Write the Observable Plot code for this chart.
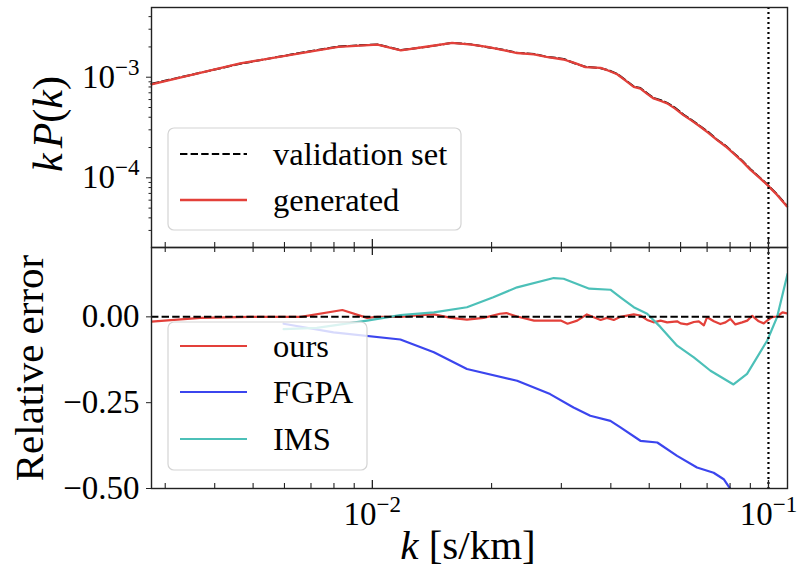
<!DOCTYPE html>
<html><head><meta charset="utf-8">
<script src="https://cdn.jsdelivr.net/npm/d3@7"></script>
<script src="https://cdn.jsdelivr.net/npm/@observablehq/plot@0.6"></script>
<style>
body{margin:0;background:#fff;}
#wrap{position:relative;width:800px;height:571px;overflow:hidden;font-family:"Liberation Serif",serif;background:#fff;}
#wrap svg{position:absolute;left:0;}
</style></head><body><div id="wrap"></div>
<script>
// ---------- data ----------
const kTop = [0.00277,0.00464,0.0065,0.0082,0.0103,0.0118,0.0138,0.0159,0.0178,0.0195,0.0214,0.0232,0.0256,0.0275,0.0304,0.0325,0.0345,0.0377,0.0395,0.0415,0.0435,0.0457,0.0475,0.0495,0.0513,0.0535,0.0555,0.058,0.061,0.064,0.0673,0.0705,0.0741,0.078,0.0816,0.086,0.0901,0.095,0.0993,0.105,0.1114];
const kPgenerated = [8.5e-4,1.37e-3,1.72e-3,2.0e-3,2.11e-3,1.85e-3,2.02e-3,2.19e-3,2.11e-3,2.0e-3,1.86e-3,1.74e-3,1.69e-3,1.59e-3,1.5e-3,1.38e-3,1.26e-3,1.24e-3,1.16e-3,1.07e-3,9.3e-4,8.0e-4,7.7e-4,6.8e-4,6.15e-4,5.8e-4,5.5e-4,4.9e-4,4.2e-4,3.7e-4,3.22e-4,2.8e-4,2.38e-4,2.05e-4,1.75e-4,1.45e-4,1.2e-4,1.0e-4,8.5e-5,6.8e-5,5.2e-5];
const kPvalidation = [8.6e-4,1.36e-3,1.73e-3,2.02e-3,2.12e-3,1.86e-3,2.01e-3,2.2e-3,2.12e-3,1.99e-3,1.87e-3,1.75e-3,1.7e-3,1.6e-3,1.52e-3,1.37e-3,1.27e-3,1.23e-3,1.17e-3,1.08e-3,9.4e-4,8.1e-4,7.8e-4,6.9e-4,6.2e-4,5.9e-4,5.55e-4,5.0e-4,4.25e-4,3.75e-4,3.25e-4,2.85e-4,2.4e-4,2.08e-4,1.77e-4,1.47e-4,1.22e-4,1.01e-4,8.6e-5,6.9e-5,5.25e-5];

const kOurs = [0.00277,0.00368,0.00492,0.0066,0.0084,0.0097,0.0103,0.01177,0.01297,0.0143,0.0158,0.01733,0.0191,0.0210,0.0218,0.0232,0.0256,0.0299,0.0311,0.0329,0.0348,0.0377,0.0391,0.0407,0.0423,0.0457,0.0475,0.0494,0.0513,0.0534,0.0555,0.0588,0.0600,0.0623,0.0648,0.0667,0.0687,0.0700,0.0728,0.0756,0.0779,0.0802,0.0825,0.0858,0.0884,0.0910,0.0945,0.0973,0.0992,0.1021,0.1051,0.1085,0.1117];
const errOurs = [-0.014,-0.003,0.0,0.0,0.02,-0.003,0.0,0.0,0.004,0.007,-0.003,-0.008,-0.003,0.009,0.011,0.001,-0.011,-0.011,-0.02,-0.011,0.007,-0.009,-0.003,-0.009,0.0,0.007,0.004,-0.009,-0.016,-0.011,-0.016,-0.013,-0.019,-0.022,-0.015,-0.013,-0.025,-0.001,-0.013,-0.021,-0.016,-0.006,-0.022,-0.016,-0.011,0.003,-0.013,-0.019,-0.011,-0.001,0.001,0.013,0.010];

const kFGPA = [0.00597,0.00798,0.01177,0.0143,0.01733,0.0232,0.0281,0.0322,0.0355,0.0399,0.0423,0.0475,0.0524,0.0588,0.066,0.0727,0.0771,0.0802];
const errFGPA = [-0.02,-0.045,-0.066,-0.103,-0.152,-0.186,-0.225,-0.264,-0.288,-0.303,-0.322,-0.361,-0.366,-0.405,-0.439,-0.454,-0.473,-0.502];

const kIMS = [0.00597,0.00724,0.0097,0.01177,0.0143,0.01733,0.0202,0.0232,0.0287,0.0304,0.0353,0.0399,0.0423,0.0457,0.0494,0.0534,0.0588,0.0648,0.0714,0.0816,0.0883,0.0993,0.1052,0.1117];
const errIMS = [-0.036,-0.032,-0.011,0.005,0.013,0.028,0.057,0.086,0.113,0.111,0.082,0.079,0.057,0.028,0.009,-0.03,-0.084,-0.118,-0.157,-0.197,-0.166,-0.069,0.0,0.125];

const kCut = [0.1];
const xMajorTicks = [0.01, 0.1];
const xMinorTicks = [0.003,0.004,0.005,0.006,0.007,0.008,0.009,0.02,0.03,0.04,0.05,0.06,0.07,0.08,0.09];
const yTopMajorTicks = [1e-4, 1e-3];
const yTopMinorTicks = [3e-5,4e-5,5e-5,6e-5,7e-5,8e-5,9e-5,2e-4,3e-4,4e-4,5e-4,6e-4,7e-4,8e-4,9e-4,2e-3,3e-3,4e-3];
const yBotTicks = [0, -0.25, -0.5];
const topLegend = ["validation set", "generated"];
const botLegend = ["ours", "FGPA", "IMS"];

// ---------- styles ----------
const RED = "#e3403a", BLUE = "#3b45ee", TEAL = "#4cc0b8", AX = "#222";
const xDomain = [0.00277, 0.1117];
const style = {background:"transparent", fontFamily:'"Liberation Serif", serif', fontSize:"33px", color:"#000", overflow:"visible"};
const pow = d => "10^" + Math.round(Math.log10(d));

const topGen = kTop.map((k,i)=>({k, v:kPgenerated[i]}));
const topVal = kTop.map((k,i)=>({k, v:kPvalidation[i]}));
const ours = kOurs.map((k,i)=>({k, v:errOurs[i]}));
const fgpa = kFGPA.map((k,i)=>({k, v:errFGPA[i]}));
const ims = kIMS.map((k,i)=>({k, v:errIMS[i]}));

const topInner = 240;
const topPlot = Plot.plot({
  width:800, height:250, marginTop:7, marginBottom:3, marginLeft:151, marginRight:13,
  style,
  x:{type:"log", domain:xDomain, axis:null},
  y:{type:"log", domain:[2.03e-5, 4.93e-3]},
  marks:[
    Plot.line(topVal,{x:"k", y:"v", stroke:"#000", strokeWidth:2, strokeDasharray:"7.4,3.2"}),
    Plot.line(topGen,{x:"k", y:"v", stroke:RED, strokeWidth:2.3}),
    Plot.ruleX(kCut,{stroke:"#000", strokeWidth:2.2, strokeDasharray:"2,3"}),
    Plot.frame({stroke:AX, strokeWidth:1.4}),
    Plot.axisY(yTopMajorTicks,{tickSize:5, tickPadding:7, tickFormat:pow, label:null, stroke:AX}),
    Plot.axisY(yTopMinorTicks,{tickSize:2.5, tickFormat:()=>"", label:null, stroke:AX}),
    Plot.tickX(xMajorTicks,{x:d=>d, insetTop:topInner-8, stroke:AX, strokeWidth:1.3}),
    Plot.tickX(xMinorTicks,{x:d=>d, insetTop:topInner-5, stroke:AX, strokeWidth:1.1})
  ]
});

const botInner = 241;
const botPlot = Plot.plot({
  width:800, height:326, marginTop:2, marginBottom:83, marginLeft:151, marginRight:13,
  style,
  x:{type:"log", domain:xDomain},
  y:{domain:[-0.5, 0.202]},
  marks:[
    Plot.line(ours,{x:"k", y:"v", stroke:RED, strokeWidth:2.2, clip:true}),
    Plot.line(fgpa,{x:"k", y:"v", stroke:BLUE, strokeWidth:2.2, clip:true}),
    Plot.line(ims,{x:"k", y:"v", stroke:TEAL, strokeWidth:2.2, clip:true}),
    Plot.ruleY([0],{stroke:"#000", strokeWidth:2, strokeDasharray:"7.4,3.2"}),
    Plot.ruleX(kCut,{stroke:"#000", strokeWidth:2.2, strokeDasharray:"2,3"}),
    Plot.frame({stroke:AX, strokeWidth:1.4}),
    Plot.axisY(yBotTicks,{tickSize:5, tickPadding:7, tickFormat:d=>d.toFixed(2).replace("-","\u2212"), label:null, stroke:AX}),
    Plot.axisX(xMajorTicks,{tickSize:0, tickPadding:13, tickFormat:pow, label:null}),
    Plot.tickX(xMajorTicks,{x:d=>d, insetTop:botInner-8, stroke:AX, strokeWidth:1.3}),
    Plot.tickX(xMinorTicks,{x:d=>d, insetTop:botInner-5, stroke:AX, strokeWidth:1.1}),
    Plot.tickX(xMajorTicks,{x:d=>d, insetBottom:botInner-8, stroke:AX, strokeWidth:1.3}),
    Plot.tickX(xMinorTicks,{x:d=>d, insetBottom:botInner-5, stroke:AX, strokeWidth:1.1})
  ]
});

function supers(svg){
  d3.select(svg).selectAll("text").each(function(){
    const m = /^10\^(-?\d+)$/.exec(this.textContent);
    if(m){
      const s = d3.select(this);
      s.text("10");
      s.append("tspan").attr("dy", -13).attr("font-size", 23).text(m[1].replace("-","\u2212"));
    }
  });
}
supers(topPlot); supers(botPlot);

const wrap = document.getElementById("wrap");
topPlot.style.top = "0px";
botPlot.style.top = "245px";
wrap.appendChild(topPlot);
wrap.appendChild(botPlot);

// ---------- overlay: legends and axis labels ----------
const ov = d3.select(wrap).append("svg")
  .attr("width",800).attr("height",571).style("top","0px")
  .style("font-family",'"Liberation Serif", serif');

function legend(x,y,w,h,items,styles,rowY){
  ov.append("rect").attr("x",x).attr("y",y).attr("width",w).attr("height",h).attr("rx",6)
    .attr("fill","#fff").attr("fill-opacity",0.8).attr("stroke","#d4d4d4").attr("stroke-width",1.2);
  items.forEach((t,i)=>{
    const yy = rowY[i];
    ov.append("line").attr("x1",180).attr("x2",247).attr("y1",yy).attr("y2",yy)
      .attr("stroke",styles[i].c).attr("stroke-width",styles[i].w).attr("stroke-dasharray",styles[i].d||null);
    ov.append("text").attr("x",273).attr("y",yy+11).attr("font-size",32.5).attr("fill","#000").text(t);
  });
}
legend(168,128,293,102,topLegend,[{c:"#000",w:2,d:"7.4,3.2"},{c:RED,w:2.3}],[154,200]);
legend(168,322,199,148,botLegend,[{c:RED,w:2.2},{c:BLUE,w:2.2},{c:TEAL,w:2.2}],[346,392,439]);

// y label top
const yl = ov.append("text").attr("transform","translate(62,124) rotate(-90)").attr("text-anchor","middle").attr("font-size",42).attr("fill","#000");
yl.append("tspan").attr("font-style","italic").text("k");
yl.append("tspan").attr("font-style","italic").attr("dx",5).text("P");
yl.append("tspan").text("(");
yl.append("tspan").attr("font-style","italic").text("k");
yl.append("tspan").text(")");
// y label bottom
ov.append("text").attr("transform","translate(43,368) rotate(-90)").attr("text-anchor","middle").attr("font-size",41).attr("fill","#000").text("Relative error");
// x label
const xl = ov.append("text").attr("x",468).attr("y",559).attr("text-anchor","middle").attr("font-size",41).attr("fill","#000");
xl.append("tspan").attr("font-style","italic").text("k");
xl.append("tspan").text(" [s/km]");
</script></body></html>
